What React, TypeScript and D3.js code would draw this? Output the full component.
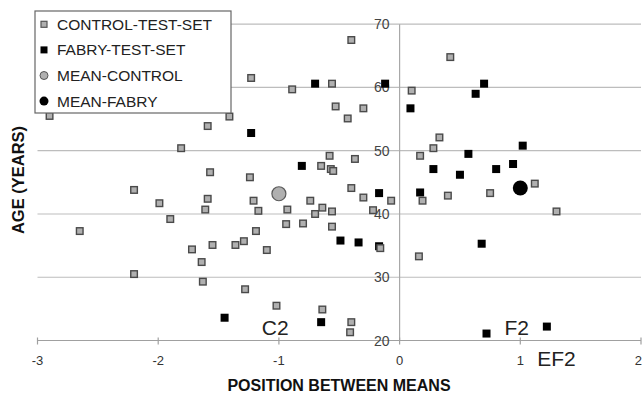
import { useEffect, useRef } from 'react';
import * as d3 from 'd3';

// control test set: [position between means, age]
const controlPoints: [number, number][] = [
  [-2.9, 55.5], [-1.41, 55.4], [-1.59, 53.9], [-1.81, 50.4], [-1.57, 46.6],
  [-2.2, 43.8], [-1.59, 42.4], [-0.4, 67.5], [-1.23, 61.5], [-0.89, 59.7],
  [-0.56, 60.6], [0.1, 59.5], [-0.53, 57.0], [-0.3, 56.7], [-0.43, 55.1],
  [-0.58, 49.2], [-0.37, 48.7], [-0.65, 47.6], [-0.57, 47.1], [-0.55, 46.8],
  [0.17, 49.2], [-1.24, 45.8], [-0.4, 44.1], [-0.3, 42.6], [-0.07, 42.1],
  [0.42, 64.8], [0.33, 52.1], [0.28, 50.4], [1.12, 44.8], [0.19, 42.1],
  [0.4, 42.9], [0.75, 43.3], [1.3, 40.4], [0.16, 33.3], [-0.16, 34.6],
  [-1.61, 40.7], [-1.21, 42.1], [-1.17, 40.5], [-0.93, 40.7], [-0.74, 42.1],
  [-0.64, 41.0], [-0.7, 40.0], [-0.56, 40.4], [-0.22, 40.6], [-0.94, 38.4],
  [-0.8, 38.5], [-0.56, 38.0], [-1.19, 37.3], [-1.55, 35.1], [-1.36, 35.1],
  [-1.29, 35.7], [-1.1, 34.3], [-1.64, 32.4], [-1.63, 29.3], [-1.28, 28.1],
  [-1.02, 25.5], [-0.64, 24.9], [-0.4, 22.9], [-0.41, 21.3], [-1.99, 41.7],
  [-1.9, 39.2], [-2.65, 37.3], [-1.72, 34.4], [-2.2, 30.5],
];

// fabry test set
const fabryPoints: [number, number][] = [
  [-0.7, 60.6], [-0.12, 60.6], [0.09, 56.7], [-1.23, 52.8], [-0.81, 47.6],
  [-0.17, 43.3], [0.7, 60.6], [0.63, 59.0], [0.57, 49.5], [1.02, 50.8],
  [0.28, 47.1], [0.5, 46.2], [0.8, 47.1], [0.94, 47.9], [0.17, 43.4],
  [0.68, 35.3], [-0.49, 35.8], [-0.34, 35.5], [-0.17, 34.9], [-1.45, 23.6],
  [-0.65, 22.9], [0.72, 21.1], [1.22, 22.2],
];

const meanControl: [number, number] = [-1.0, 43.2];
const meanFabry: [number, number] = [1.0, 44.1];

const xTicks = [-3, -2, -1, 0, 1, 2];
const yTicks = [20, 30, 40, 50, 60, 70];

// text annotations
const annotations: { label: string; x: number; y: number }[] = [
  { label: 'C2', x: -1.03, y: 20.9 },
  { label: 'F2', x: 0.97, y: 20.9 },
  { label: 'EF2', x: 1.3, y: 15.9 },
];

const legendItems = ['CONTROL-TEST-SET', 'FABRY-TEST-SET', 'MEAN-CONTROL', 'MEAN-FABRY'];

const FONT = '"Liberation Sans", Arial, sans-serif';

const App = () => {
  const chartRef = useRef<SVGSVGElement>(null);

  useEffect(() => {
    if (!chartRef.current) return;
    d3.select(chartRef.current).selectAll('*').remove();

    const width = 643;
    const height = 396;
    const svg = d3.select(chartRef.current)
      .attr('width', width)
      .attr('height', height);

    const x = d3.scaleLinear().domain([-3, 2]).range([37.5, 641]);
    const y = d3.scaleLinear().domain([20, 70]).range([340.5, 24.2]);

    svg.append('rect').attr('width', width).attr('height', height).attr('fill', '#fff');

    // horizontal gridlines
    svg.selectAll('line.grid')
      .data(yTicks.filter(t => t !== 20))
      .enter()
      .append('line')
      .attr('class', 'grid')
      .attr('x1', x(-3))
      .attr('x2', x(2))
      .attr('y1', d => y(d))
      .attr('y2', d => y(d))
      .attr('stroke', '#bdbdbd')
      .attr('stroke-width', 1.2);

    // x axis line and vertical axis at 0
    svg.append('line')
      .attr('x1', x(-3)).attr('x2', x(2))
      .attr('y1', y(20)).attr('y2', y(20))
      .attr('stroke', '#a0a0a0').attr('stroke-width', 1.2);
    svg.append('line')
      .attr('x1', x(0)).attr('x2', x(0))
      .attr('y1', y(70)).attr('y2', y(20))
      .attr('stroke', '#a8a8a8').attr('stroke-width', 1.2);

    // x ticks
    svg.selectAll('line.xtick')
      .data(xTicks)
      .enter()
      .append('line')
      .attr('class', 'xtick')
      .attr('x1', d => x(d)).attr('x2', d => x(d))
      .attr('y1', y(20) - 3).attr('y2', y(20) + 4)
      .attr('stroke', '#a0a0a0').attr('stroke-width', 1.2);

    // last label is pushed in so it stays on the page
    svg.selectAll('text.xlabel')
      .data(xTicks)
      .enter()
      .append('text')
      .attr('class', 'xlabel')
      .attr('x', d => (d === 2 ? width - 1 : x(d)))
      .attr('y', 365)
      .attr('text-anchor', d => (d === 2 ? 'end' : 'middle'))
      .style('font-family', FONT)
      .style('font-size', '13px')
      .style('fill', '#333')
      .text(d => String(d));

    // y tick labels, sitting beside the zero line
    svg.selectAll('text.ylabel')
      .data(yTicks)
      .enter()
      .append('text')
      .attr('class', 'ylabel')
      .attr('x', x(0) - 10)
      .attr('y', d => y(d) + 5)
      .attr('text-anchor', 'end')
      .style('font-family', FONT)
      .style('font-size', '14px')
      .style('fill', '#444')
      .text(d => String(d));

    // data points
    const sq = 8;
    svg.selectAll('rect.fabry')
      .data(fabryPoints)
      .enter()
      .append('rect')
      .attr('class', 'fabry')
      .attr('x', d => x(d[0]) - sq / 2)
      .attr('y', d => y(d[1]) - sq / 2)
      .attr('width', sq)
      .attr('height', sq)
      .attr('fill', '#000');

    svg.selectAll('rect.control')
      .data(controlPoints)
      .enter()
      .append('rect')
      .attr('class', 'control')
      .attr('x', d => x(d[0]) - (sq - 1.4) / 2)
      .attr('y', d => y(d[1]) - (sq - 1.4) / 2)
      .attr('width', sq - 1.4)
      .attr('height', sq - 1.4)
      .attr('fill', '#b0b0b0')
      .attr('stroke', '#4a4a4a')
      .attr('stroke-width', 1.4);

    svg.append('circle')
      .attr('cx', x(meanControl[0])).attr('cy', y(meanControl[1]))
      .attr('r', 7)
      .attr('fill', '#b0b0b0').attr('stroke', '#5a5a5a').attr('stroke-width', 1.2);
    svg.append('circle')
      .attr('cx', x(meanFabry[0])).attr('cy', y(meanFabry[1]))
      .attr('r', 7.5)
      .attr('fill', '#000');

    // annotations
    svg.selectAll('text.note')
      .data(annotations)
      .enter()
      .append('text')
      .attr('class', 'note')
      .attr('x', d => x(d.x))
      .attr('y', d => y(d.y))
      .attr('text-anchor', 'middle')
      .style('font-family', FONT)
      .style('font-size', '21px')
      .style('fill', '#222')
      .text(d => d.label);

    // axis titles
    svg.append('text')
      .attr('x', 339)
      .attr('y', 391)
      .attr('text-anchor', 'middle')
      .style('font-family', FONT)
      .style('font-size', '16px')
      .style('font-weight', 'bold')
      .style('fill', '#111')
      .text('POSITION BETWEEN MEANS');
    svg.append('text')
      .attr('transform', 'translate(24, 180) rotate(-90)')
      .attr('text-anchor', 'middle')
      .style('font-family', FONT)
      .style('font-size', '16.5px')
      .style('font-weight', 'bold')
      .style('fill', '#111')
      .text('AGE (YEARS)');

    // legend
    const legend = svg.append('g').attr('transform', 'translate(35, 11)');
    legend.append('rect')
      .attr('width', 196).attr('height', 102)
      .attr('fill', '#fff').attr('stroke', '#666').attr('stroke-width', 1.2);
    const rows = legend.selectAll('g.item')
      .data(legendItems)
      .enter()
      .append('g')
      .attr('class', 'item')
      .attr('transform', (d, i) => `translate(0, ${13.3 + i * 25.6})`);
    rows.each(function (d, i) {
      const g = d3.select(this);
      if (i === 0) {
        g.append('rect').attr('x', 6).attr('y', -3).attr('width', 6).attr('height', 6)
          .attr('fill', '#b0b0b0').attr('stroke', '#555').attr('stroke-width', 1.2);
      } else if (i === 1) {
        g.append('rect').attr('x', 5.5).attr('y', -3.5).attr('width', 7).attr('height', 7)
          .attr('fill', '#000');
      } else if (i === 2) {
        g.append('circle').attr('cx', 9).attr('cy', 0).attr('r', 4)
          .attr('fill', '#b0b0b0').attr('stroke', '#555').attr('stroke-width', 1);
      } else {
        g.append('circle').attr('cx', 9).attr('cy', 0).attr('r', 4.5).attr('fill', '#000');
      }
    });
    rows.append('text')
      .attr('x', 22)
      .attr('y', 5.5)
      .style('font-family', FONT)
      .style('font-size', '15.5px')
      .style('fill', '#222')
      .text(d => d);
  }, []);

  return (
    <div style={{ position: 'absolute', left: 0, top: 0 }}>
      <svg ref={chartRef} style={{ display: 'block' }} />
    </div>
  );
};

export default App;
